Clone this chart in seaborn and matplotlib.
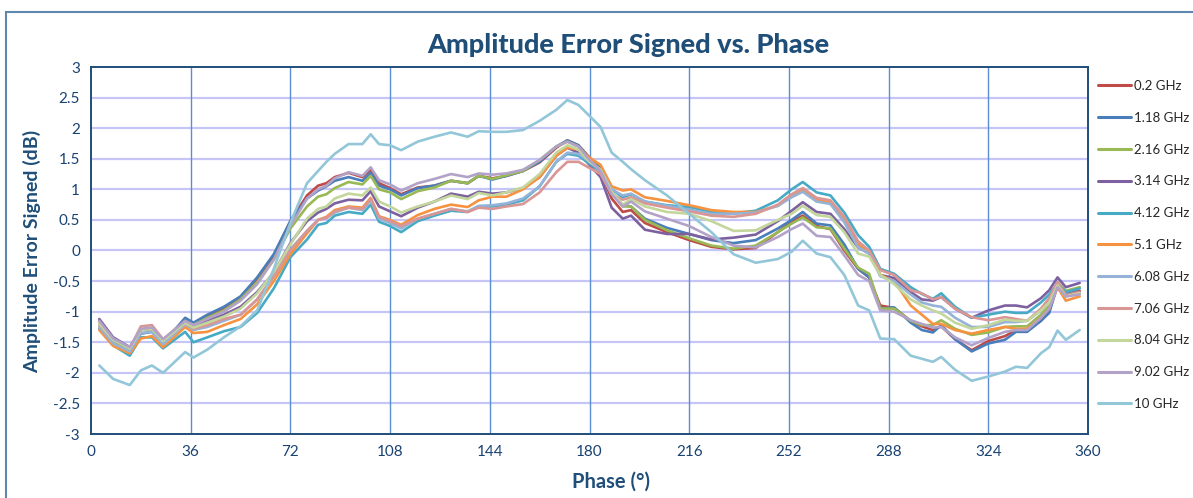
import numpy as np
import pandas as pd
import matplotlib
matplotlib.use('Agg')
import matplotlib.pyplot as plt
from matplotlib.patches import Rectangle
from matplotlib.ticker import FuncFormatter
import seaborn as sns

# --- dados ---
phase = [3, 8, 14, 18, 22, 26, 34, 37, 42, 48, 54, 60,
         66, 72, 78, 82, 85, 88, 93, 98, 101, 104, 108, 112,
         118, 124, 130, 136, 140, 145, 150, 156, 162, 168, 172, 176,
         180, 184, 188, 192, 195, 200, 208, 216, 224, 232, 240, 248,
         253, 257, 262, 267, 272, 277, 281, 285, 290, 296, 300, 304,
         307, 312, 318, 324, 330, 334, 338, 343, 346, 349, 352, 357]

freqs = ['0.2 GHz', '1.18 GHz', '2.16 GHz', '3.14 GHz', '4.12 GHz', '5.1 GHz',
         '6.08 GHz', '7.06 GHz', '8.04 GHz', '9.02 GHz', '10 GHz']

f_0_2 = [-1.15, -1.45, -1.60, -1.30, -1.28, -1.48, -1.13, -1.20, -1.08, -0.94, -0.76, -0.46,
         -0.08, 0.48, 0.90, 1.06, 1.10, 1.20, 1.27, 1.20, 1.32, 1.10, 1.02, 0.92,
         1.03, 1.06, 1.14, 1.10, 1.22, 1.18, 1.22, 1.30, 1.44, 1.68, 1.80, 1.72,
         1.52, 1.28, 0.85, 0.63, 0.66, 0.45, 0.30, 0.17, 0.06, 0.02, 0.04, 0.30,
         0.47, 0.57, 0.40, 0.35, 0.00, -0.30, -0.44, -0.90, -0.94, -1.15, -1.24, -1.30,
         -1.24, -1.45, -1.63, -1.48, -1.40, -1.30, -1.30, -1.15, -0.98, -0.56, -0.70, -0.66]

f_1_18 = [-1.20, -1.50, -1.65, -1.36, -1.33, -1.52, -1.10, -1.18, -1.05, -0.92, -0.75, -0.44,
          -0.06, 0.48, 0.85, 0.98, 1.05, 1.14, 1.20, 1.14, 1.27, 1.06, 1.00, 0.90,
          1.02, 1.06, 1.14, 1.10, 1.22, 1.16, 1.22, 1.30, 1.45, 1.70, 1.80, 1.72,
          1.50, 1.35, 0.95, 0.74, 0.72, 0.52, 0.37, 0.27, 0.17, 0.12, 0.17, 0.36,
          0.50, 0.63, 0.44, 0.41, 0.10, -0.30, -0.44, -0.95, -0.93, -1.18, -1.30, -1.34,
          -1.22, -1.45, -1.65, -1.52, -1.46, -1.33, -1.33, -1.15, -1.02, -0.57, -0.72, -0.68]

f_2_16 = [-1.20, -1.48, -1.62, -1.30, -1.28, -1.50, -1.15, -1.22, -1.10, -0.98, -0.80, -0.52,
          -0.15, 0.36, 0.72, 0.88, 0.92, 1.02, 1.12, 1.08, 1.22, 1.00, 0.95, 0.84,
          0.97, 1.03, 1.14, 1.10, 1.22, 1.17, 1.23, 1.30, 1.48, 1.70, 1.78, 1.70,
          1.50, 1.30, 0.95, 0.72, 0.72, 0.50, 0.33, 0.20, 0.08, 0.03, 0.08, 0.30,
          0.44, 0.54, 0.38, 0.36, 0.03, -0.28, -0.38, -0.95, -0.95, -1.15, -1.22, -1.22,
          -1.14, -1.28, -1.38, -1.34, -1.25, -1.24, -1.24, -1.05, -0.90, -0.52, -0.66, -0.60]

f_3_14 = [-1.12, -1.42, -1.58, -1.30, -1.27, -1.46, -1.15, -1.25, -1.15, -1.05, -0.92, -0.68,
          -0.36, 0.12, 0.48, 0.62, 0.68, 0.77, 0.83, 0.82, 0.97, 0.72, 0.64, 0.56,
          0.70, 0.80, 0.93, 0.88, 0.96, 0.93, 0.95, 1.02, 1.20, 1.55, 1.68, 1.60,
          1.40, 1.20, 0.70, 0.52, 0.57, 0.34, 0.27, 0.27, 0.18, 0.21, 0.26, 0.48,
          0.65, 0.79, 0.63, 0.60, 0.35, 0.05, -0.05, -0.40, -0.45, -0.68, -0.80, -0.82,
          -0.76, -0.95, -1.10, -0.98, -0.90, -0.90, -0.93, -0.78, -0.65, -0.44, -0.60, -0.53]

f_4_12 = [-1.28, -1.55, -1.72, -1.42, -1.42, -1.60, -1.33, -1.50, -1.42, -1.32, -1.25, -1.02,
          -0.62, -0.11, 0.18, 0.42, 0.45, 0.57, 0.63, 0.60, 0.75, 0.47, 0.40, 0.30,
          0.48, 0.57, 0.65, 0.63, 0.72, 0.72, 0.75, 0.82, 1.05, 1.45, 1.58, 1.55,
          1.42, 1.30, 1.00, 0.87, 0.92, 0.80, 0.74, 0.71, 0.63, 0.61, 0.65, 0.82,
          1.00, 1.12, 0.95, 0.90, 0.62, 0.25, 0.06, -0.30, -0.38, -0.60, -0.71, -0.79,
          -0.70, -0.92, -1.10, -1.05, -1.00, -1.02, -1.02, -0.85, -0.72, -0.54, -0.68, -0.62]

f_5_1 = [-1.30, -1.56, -1.68, -1.44, -1.40, -1.58, -1.25, -1.35, -1.33, -1.22, -1.12, -0.88,
         -0.50, -0.06, 0.28, 0.50, 0.55, 0.66, 0.72, 0.70, 0.86, 0.56, 0.50, 0.42,
         0.58, 0.68, 0.75, 0.71, 0.82, 0.88, 0.88, 1.00, 1.20, 1.55, 1.68, 1.65,
         1.52, 1.40, 1.05, 0.98, 1.00, 0.87, 0.81, 0.74, 0.66, 0.63, 0.63, 0.73,
         0.90, 1.00, 0.83, 0.78, 0.50, 0.10, -0.02, -0.40, -0.50, -0.90, -1.05, -1.20,
         -1.20, -1.30, -1.36, -1.30, -1.25, -1.28, -1.28, -1.10, -0.95, -0.60, -0.82, -0.75]

f_6_08 = [-1.25, -1.52, -1.65, -1.35, -1.33, -1.53, -1.20, -1.30, -1.25, -1.15, -1.05, -0.80,
          -0.42, 0.02, 0.32, 0.50, 0.53, 0.62, 0.70, 0.66, 0.82, 0.52, 0.45, 0.36,
          0.52, 0.60, 0.68, 0.64, 0.73, 0.74, 0.77, 0.85, 1.05, 1.45, 1.60, 1.58,
          1.45, 1.32, 1.00, 0.90, 0.93, 0.80, 0.73, 0.67, 0.60, 0.60, 0.62, 0.73,
          0.87, 0.96, 0.80, 0.76, 0.46, 0.05, -0.05, -0.42, -0.50, -0.72, -0.85, -0.90,
          -0.92, -1.10, -1.25, -1.25, -1.17, -1.17, -1.15, -0.98, -0.85, -0.55, -0.75, -0.70]

f_7_06 = [-1.22, -1.45, -1.60, -1.24, -1.22, -1.45, -1.18, -1.28, -1.22, -1.12, -1.05, -0.80,
          -0.42, 0.00, 0.32, 0.50, 0.53, 0.64, 0.70, 0.68, 0.84, 0.55, 0.48, 0.40,
          0.52, 0.60, 0.68, 0.63, 0.70, 0.68, 0.72, 0.76, 0.95, 1.28, 1.45, 1.45,
          1.35, 1.25, 0.92, 0.83, 0.87, 0.77, 0.70, 0.64, 0.57, 0.55, 0.60, 0.75,
          0.92, 1.02, 0.86, 0.82, 0.55, 0.15, 0.00, -0.32, -0.40, -0.65, -0.70, -0.80,
          -0.76, -0.95, -1.09, -1.14, -1.09, -1.12, -1.15, -0.95, -0.78, -0.52, -0.73, -0.68]

f_8_04 = [-1.20, -1.46, -1.60, -1.30, -1.28, -1.48, -1.18, -1.26, -1.18, -1.08, -0.95, -0.70,
          -0.35, 0.10, 0.52, 0.68, 0.72, 0.85, 0.93, 0.90, 1.03, 0.80, 0.72, 0.62,
          0.72, 0.80, 0.90, 0.84, 0.94, 0.90, 0.95, 1.03, 1.25, 1.60, 1.72, 1.65,
          1.45, 1.32, 0.96, 0.75, 0.84, 0.72, 0.63, 0.60, 0.48, 0.32, 0.33, 0.50,
          0.60, 0.73, 0.58, 0.55, 0.30, -0.05, -0.10, -0.40, -0.55, -0.80, -0.90, -0.98,
          -1.03, -1.18, -1.28, -1.22, -1.13, -1.15, -1.15, -0.98, -0.85, -0.57, -0.75, -0.70]

f_9_02 = [-1.15, -1.44, -1.58, -1.28, -1.26, -1.45, -1.15, -1.22, -1.12, -1.00, -0.82, -0.55,
          -0.15, 0.40, 0.85, 1.00, 1.06, 1.18, 1.28, 1.22, 1.36, 1.15, 1.08, 0.98,
          1.10, 1.17, 1.25, 1.20, 1.26, 1.24, 1.26, 1.32, 1.48, 1.70, 1.78, 1.70,
          1.48, 1.30, 0.92, 0.72, 0.80, 0.64, 0.52, 0.40, 0.22, 0.08, 0.05, 0.22,
          0.35, 0.44, 0.24, 0.22, -0.08, -0.40, -0.50, -0.98, -1.00, -1.14, -1.20, -1.26,
          -1.25, -1.42, -1.55, -1.43, -1.33, -1.30, -1.30, -1.10, -0.95, -0.60, -0.75, -0.72]

f_10 = [-1.88, -2.10, -2.20, -1.96, -1.88, -2.00, -1.66, -1.75, -1.62, -1.42, -1.24, -0.98,
        -0.30, 0.45, 1.10, 1.30, 1.45, 1.58, 1.74, 1.74, 1.90, 1.74, 1.72, 1.64,
        1.78, 1.86, 1.93, 1.86, 1.95, 1.94, 1.94, 1.97, 2.12, 2.30, 2.46, 2.38,
        2.20, 2.02, 1.60, 1.45, 1.33, 1.15, 0.90, 0.60, 0.30, -0.06, -0.20, -0.14,
        -0.02, 0.16, -0.05, -0.11, -0.40, -0.90, -0.98, -1.44, -1.45, -1.72, -1.77, -1.82,
        -1.74, -1.95, -2.13, -2.06, -1.98, -1.90, -1.92, -1.68, -1.58, -1.31, -1.46, -1.30]

series = [f_0_2, f_1_18, f_2_16, f_3_14, f_4_12, f_5_1,
          f_6_08, f_7_06, f_8_04, f_9_02, f_10]

colors = ['#BE4B48', '#4A7EBB', '#98B954', '#7D60A0', '#46AAC5', '#F69240',
          '#95B3D7', '#D99694', '#C3D69B', '#B3A2C7', '#92C6D8']

# --- tabela longa para o seaborn ---
df = pd.concat([pd.DataFrame({'Phase': phase, 'Error': vals, 'Freq': name})
                for name, vals in zip(freqs, series)], ignore_index=True)

sns.set_style('white')
plt.rcParams['font.family'] = ['Lato', 'DejaVu Sans']

dark_blue = '#1F4E79'
text_blue = '#1A4272'

fig = plt.figure(figsize=(11.93, 4.98), dpi=100)
ax = fig.add_axes([91 / 1193, 1 - 434 / 498, (1088 - 91) / 1193, (434 - 67) / 498])

# moldura externa do gráfico
fig.patches.append(Rectangle((6 / 1193, -0.05), 1.2, 1 - 12 / 498 + 0.05,
                             transform=fig.transFigure, fill=False,
                             edgecolor='#5F86AD', linewidth=1.5, zorder=0))

sns.lineplot(data=df, x='Phase', y='Error', hue='Freq', hue_order=freqs,
             palette=dict(zip(freqs, colors)), estimator=None, sort=False,
             linewidth=1.9, legend=False, ax=ax)

ax.set_xlim(0, 360)
ax.set_ylim(-3, 3)
ax.set_xticks(np.arange(0, 361, 36))
ax.set_yticks(np.arange(-3, 3.01, 0.5))
ax.yaxis.set_major_formatter(FuncFormatter(lambda v, p: f'{v:g}'))

# grade: horizontais lilás, verticais azuis
for yv in np.arange(-2.5, 3, 0.5):
    ax.axhline(yv, color='#C6C6F6', linewidth=1.6, zorder=0)
for xv in np.arange(36, 360, 36):
    ax.axvline(xv, color='#5A8ED4', linewidth=1.0, zorder=0)

for s in ax.spines.values():
    s.set_color(dark_blue)
    s.set_linewidth(1.4)

ax.tick_params(axis='both', length=0, labelsize=11, colors=text_blue, pad=8)
ax.set_xlabel('')
ax.set_ylabel('')

fig.text(0.527, 1 - 45 / 498, 'Amplitude Error Signed vs. Phase', ha='center', va='center',
         fontsize=19.5, fontweight='black', color=dark_blue)
fig.text(0.512, 1 - 482 / 498, 'Phase (°)', ha='center', va='center',
         fontsize=14.5, fontweight='bold', color=dark_blue)
fig.text(32 / 1193, 1 - 251 / 498, 'Amplitude Error Signed (dB)', ha='center', va='center',
         rotation=90, fontsize=14, fontweight='bold', color=dark_blue)

handles = ax.get_lines()[:len(freqs)]
leg = fig.legend(handles, freqs, loc='upper left', bbox_to_anchor=(1098 / 1193, 1 - 80 / 498),
                 bbox_transform=fig.transFigure, frameon=False, fontsize=9.5,
                 handlelength=2.5, handletextpad=0.25, labelspacing=1.5,
                 borderpad=0, borderaxespad=0)
for t in leg.get_texts():
    t.set_color('#262626')
for h in leg.get_lines():
    h.set_linewidth(2.2)

fig.savefig('out.png', dpi=100)
